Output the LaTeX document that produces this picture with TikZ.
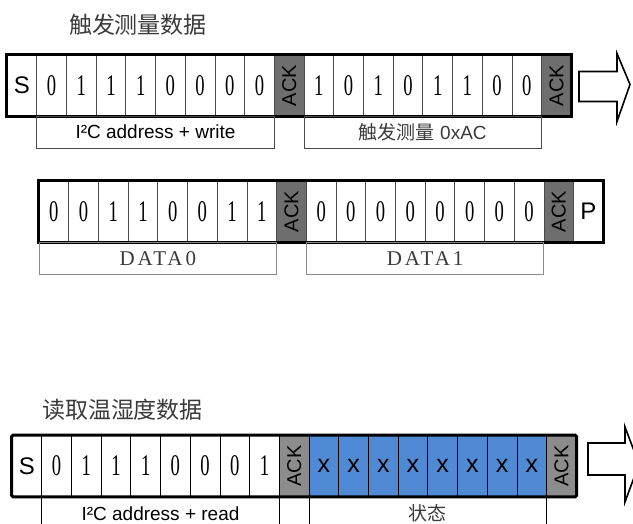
\documentclass[tikz,border=0pt]{standalone}
\usepackage{fontspec}
\usepackage{graphicx}
\setmainfont{Liberation Sans}
\newfontfamily\cjk{Noto Sans CJK SC}
\newfontfamily\digfont{Liberation Serif}
\newfontfamily\datafont[LetterSpace=14]{Liberation Serif}
\definecolor{ackgray}{HTML}{6E6E6E}
\definecolor{ackgrayb}{HTML}{8C8C8C}
\definecolor{bitblue}{HTML}{508AD4}
\definecolor{divgray}{HTML}{4A4A4A}
\definecolor{labgray}{HTML}{8A8A8A}
\definecolor{txtgray}{HTML}{3A3A3A}
\newcommand{\bit}[1]{\scalebox{0.62}[1]{\fontsize{30}{30}\digfont #1}}
\newcommand{\sig}[1]{{\fontsize{24}{24}\selectfont #1}}
\newcommand{\ack}{\rotatebox{90}{\fontsize{20}{20}\selectfont ACK}}

\begin{document}
\begin{tikzpicture}
[x=1pt,y=-1pt,
cell/.style={draw=divgray,line width=0.8pt,minimum width=29.7pt,minimum height=61pt,inner sep=0pt},
ackcell/.style={cell,fill=ackgray},
xcell/.style={cell,draw=black,fill=bitblue,font=\fontsize{25}{25}\selectfont},
frame/.style={draw=black,line width=3pt},
lab/.style={draw=divgray,line width=0.9pt,minimum width=237.6pt,minimum height=32pt,inner sep=0pt,font=\fontsize{19}{19}\selectfont},
title/.style={font=\cjk\fontsize{23}{23}\selectfont,text=txtgray},
bigarrow/.style={draw=black,line width=1.6pt,fill=white}]
\def \w {29.7}
\clip (0,0) rectangle (633,524);
%%%%%%%%%%%%%%%%%%%%%%%%%%%%
%% Trigger measurement
\node[title] (t1) at (138,25) {触发测量数据};
\begin{scope}[shift={(7,85.5)}]
% address + write
\node[cell] (s1) at ({\w*0.5},0) {\sig{S}};
\node[cell] (a1) at ({\w*1.5},0) {\bit{0}};
\node[cell] (a2) at ({\w*2.5},0) {\bit{1}};
\node[cell] (a3) at ({\w*3.5},0) {\bit{1}};
\node[cell] (a4) at ({\w*4.5},0) {\bit{1}};
\node[cell] (a5) at ({\w*5.5},0) {\bit{0}};
\node[cell] (a6) at ({\w*6.5},0) {\bit{0}};
\node[cell] (a7) at ({\w*7.5},0) {\bit{0}};
\node[cell] (a8) at ({\w*8.5},0) {\bit{0}};
\node[ackcell] (k1) at ({\w*9.5},0) {\ack};
% command 0xAC
\node[cell] (c1) at ({\w*10.5},0) {\bit{1}};
\node[cell] (c2) at ({\w*11.5},0) {\bit{0}};
\node[cell] (c3) at ({\w*12.5},0) {\bit{1}};
\node[cell] (c4) at ({\w*13.5},0) {\bit{0}};
\node[cell] (c5) at ({\w*14.5},0) {\bit{1}};
\node[cell] (c6) at ({\w*15.5},0) {\bit{1}};
\node[cell] (c7) at ({\w*16.5},0) {\bit{0}};
\node[cell] (c8) at ({\w*17.5},0) {\bit{0}};
\node[ackcell] (k2) at ({\w*18.5},0) {\ack};
%
\draw[frame] (s1.north west) rectangle (k2.south east);
\node[lab] (addr1) at ({\w*5},46.5) {I²C address + write};
\node[lab,text=txtgray] (cmd) at ({\w*14},46.5) {{\cjk 触发测量} 0xAC};
\draw[bigarrow] (572,-14) -- (610,-14) -- (610,-32) -- (623,-1) -- (610,36) -- (610,16) -- (572,16) -- cycle;
\end{scope} % trigger
%
\begin{scope}[shift={(39,211.5)}]
% DATA0
\node[cell] (d1) at ({\w*0.5},0) {\bit{0}};
\node[cell] (d2) at ({\w*1.5},0) {\bit{0}};
\node[cell] (d3) at ({\w*2.5},0) {\bit{1}};
\node[cell] (d4) at ({\w*3.5},0) {\bit{1}};
\node[cell] (d5) at ({\w*4.5},0) {\bit{0}};
\node[cell] (d6) at ({\w*5.5},0) {\bit{0}};
\node[cell] (d7) at ({\w*6.5},0) {\bit{1}};
\node[cell] (d8) at ({\w*7.5},0) {\bit{1}};
\node[ackcell] (k3) at ({\w*8.5},0) {\ack};
% DATA1
\node[cell] (e1) at ({\w*9.5},0) {\bit{0}};
\node[cell] (e2) at ({\w*10.5},0) {\bit{0}};
\node[cell] (e3) at ({\w*11.5},0) {\bit{0}};
\node[cell] (e4) at ({\w*12.5},0) {\bit{0}};
\node[cell] (e5) at ({\w*13.5},0) {\bit{0}};
\node[cell] (e6) at ({\w*14.5},0) {\bit{0}};
\node[cell] (e7) at ({\w*15.5},0) {\bit{0}};
\node[cell] (e8) at ({\w*16.5},0) {\bit{0}};
\node[ackcell] (k4) at ({\w*17.5},0) {\ack};
\node[cell] (p) at ({\w*18.5},0) {\sig{P}};
%
\draw[frame] (d1.north west) rectangle (p.south east);
\node[lab,draw=labgray,text=txtgray,font=\fontsize{21}{21}\datafont] (data0) at ({\w*4},47) {DATA0};
\node[lab,draw=labgray,text=txtgray,font=\fontsize{21}{21}\datafont] (data1) at ({\w*13},47) {DATA1};
\end{scope} % data
%%%%%%%%%%%%%%%%%%%%%%%%%%%%
%% Read temperature and humidity
\node[title] (t2) at (122.5,410) {读取温湿度数据};
\begin{scope}[shift={(12,466)}]
% address + read
\node[cell,draw=black] (s2) at ({\w*0.5},0) {\sig{S}};
\node[cell,draw=black] (r1) at ({\w*1.5},0) {\bit{0}};
\node[cell,draw=black] (r2) at ({\w*2.5},0) {\bit{1}};
\node[cell,draw=black] (r3) at ({\w*3.5},0) {\bit{1}};
\node[cell,draw=black] (r4) at ({\w*4.5},0) {\bit{1}};
\node[cell,draw=black] (r5) at ({\w*5.5},0) {\bit{0}};
\node[cell,draw=black] (r6) at ({\w*6.5},0) {\bit{0}};
\node[cell,draw=black] (r7) at ({\w*7.5},0) {\bit{0}};
\node[cell,draw=black] (r8) at ({\w*8.5},0) {\bit{1}};
\node[ackcell,draw=black,fill=ackgrayb] (k5) at ({\w*9.5},0) {\ack};
% status byte
\node[xcell] (x1) at ({\w*10.5},0) {x};
\node[xcell] (x2) at ({\w*11.5},0) {x};
\node[xcell] (x3) at ({\w*12.5},0) {x};
\node[xcell] (x4) at ({\w*13.5},0) {x};
\node[xcell] (x5) at ({\w*14.5},0) {x};
\node[xcell] (x6) at ({\w*15.5},0) {x};
\node[xcell] (x7) at ({\w*16.5},0) {x};
\node[xcell] (x8) at ({\w*17.5},0) {x};
\node[ackcell,draw=black,fill=ackgrayb] (k6) at ({\w*18.5},0) {\ack};
%
\draw[frame,rounded corners=1.5pt] (s2.north west) rectangle (k6.south east);
\node[lab,draw=black] (addr2) at ({\w*5},47.5) {I²C address + read};
\node[lab,draw=black,font=\cjk\fontsize{19}{19}\selectfont,text=txtgray] (stat) at ({\w*14},47.5) {状态};
\draw[bigarrow] (576,-23) -- (613,-23) -- (613,-39) -- (627,-2) -- (613,36) -- (613,9) -- (576,9) -- cycle;
\end{scope} % read
%%%%%%%%%%%%%%%%%%%%%%%%%%%%
\end{tikzpicture}
\end{document}
